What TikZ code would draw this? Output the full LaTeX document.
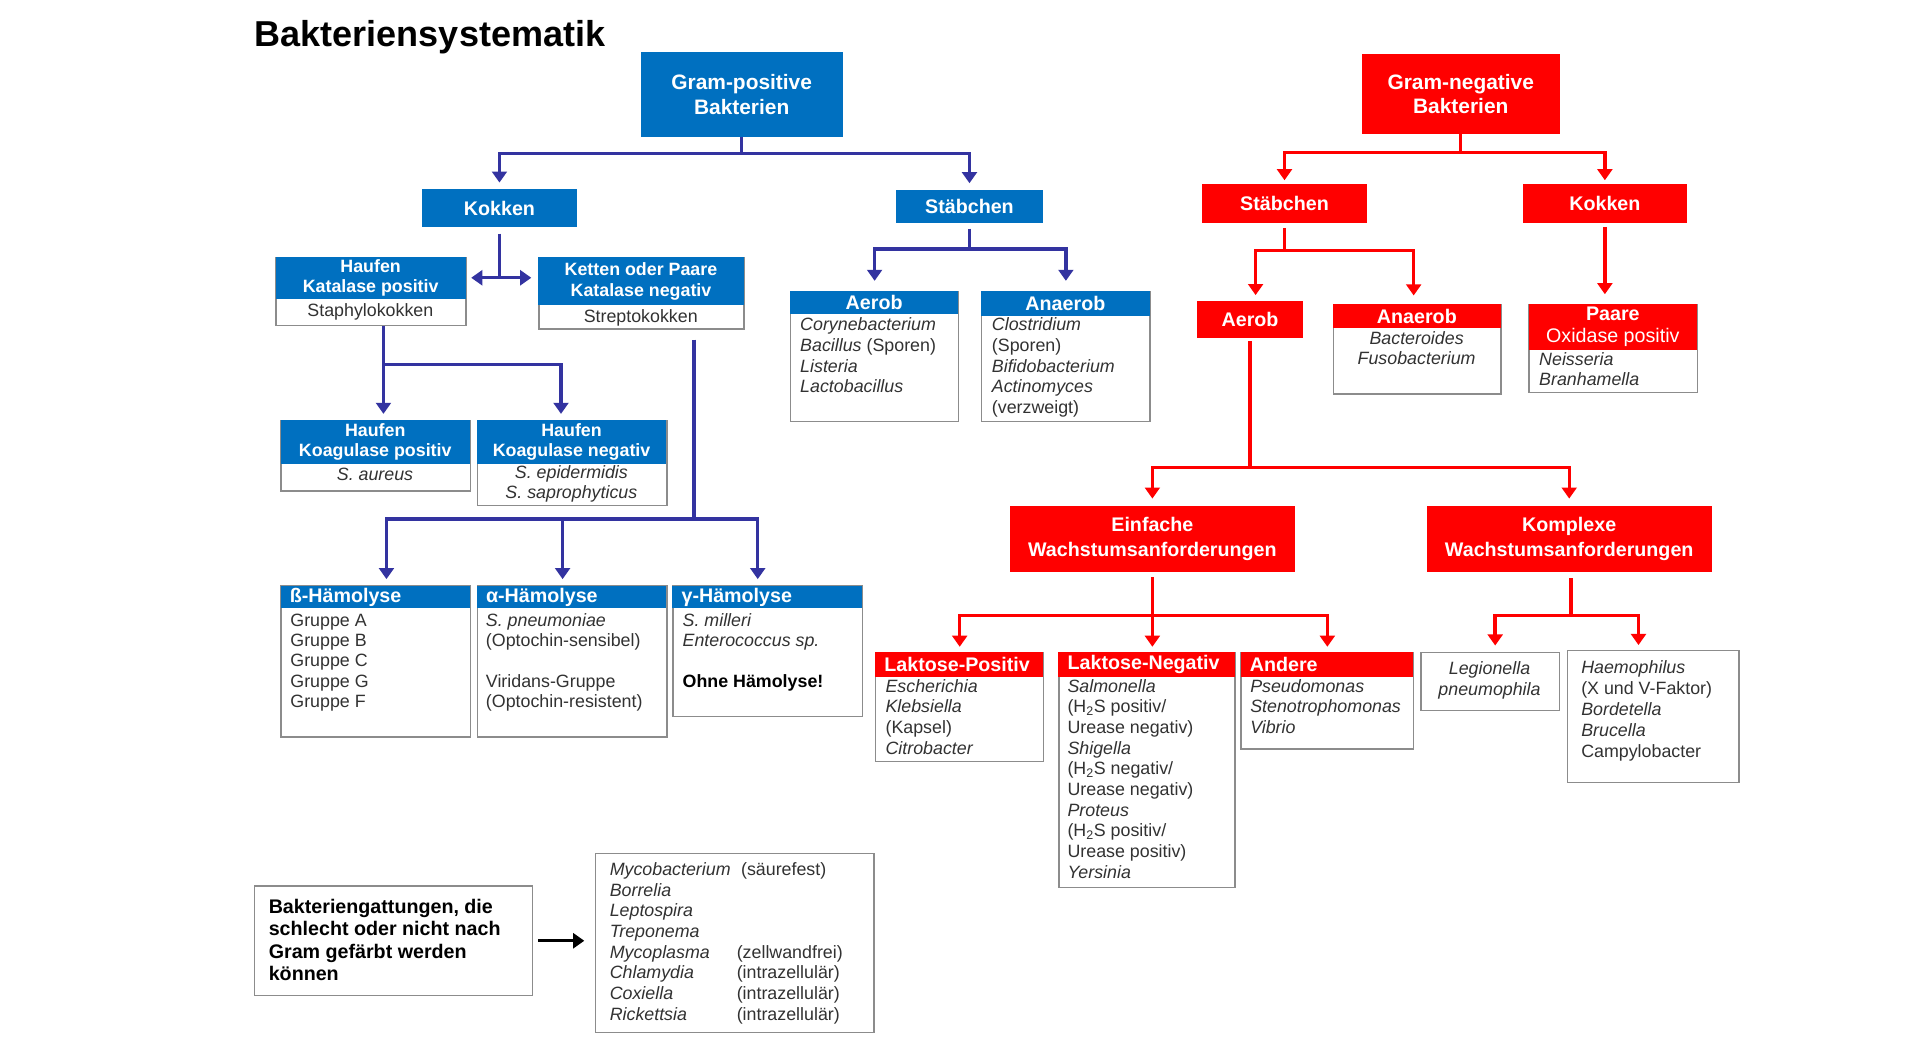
\documentclass[tikz,border=0pt]{standalone}
\usepackage{fontspec}
\setmainfont{Liberation Sans}
\usetikzlibrary{arrows.meta,calc}
\definecolor{gpblue}{RGB}{0,112,192}
\definecolor{connblue}{RGB}{51,51,160}
\definecolor{gnred}{RGB}{255,0,0}
\definecolor{framegray}{RGB}{140,140,140}
\definecolor{bodygray}{RGB}{50,50,50}
\newcommand\fntA{\bfseries\fontsize{17}{20}\selectfont}
\newcommand\fntB{\bfseries\fontsize{16}{19}\selectfont}
\newcommand\fntC{\bfseries\fontsize{14.5}{17}\selectfont}
\newcommand\fntD{\fontsize{14.5}{16.8}\selectfont}
\newcommand\fntE{\bfseries\fontsize{16}{20}\selectfont}
\newcommand\fntF{\bfseries\fontsize{16}{18.3}\selectfont}
\tikzset{
  boxframe/.style={draw=framegray, line width=1.2pt, fill=white, inner sep=0pt, anchor=north west},
  bsolid/.style={fill=gpblue, inner sep=0pt, anchor=north west, text=white, align=center},
  rsolid/.style={fill=gnred, inner sep=0pt, anchor=north west, text=white, align=center},
  bheadL/.style={bsolid, align=left, inner xsep=7.5pt, font=\fntB},
  rheadL/.style={rsolid, align=left, inner xsep=7.5pt, font=\fntB},
  body/.style={inner sep=0pt, text=bodygray, align=left, font=\fntD, execute at begin node=\strut},
  bline/.style={draw=connblue, line width=2.8pt},
  barr/.style={bline, ->, shorten >=5pt},
  rline/.style={draw=gnred, line width=2.8pt},
  rarr/.style={rline, ->, shorten >=5pt},
}
\begin{document}
\begin{tikzpicture}[x=1pt,y=-1pt,>={Triangle[length=9pt,width=12pt]}]
\fill[white] (0,0) rectangle (1568,862);
\useasboundingbox (0,0) rectangle (1568,862);

% title
\node[anchor=base west, inner sep=0pt, font=\bfseries\fontsize{29.3}{33}\selectfont] (title) at (207,38) {Bakteriensystematik};

% ---------------- Gram-positive ----------------
\node[bsolid, minimum width=164pt, minimum height=69pt, font=\fntA] (gp) at (521,42) {Gram-positive\\Bakterien};
\node[bsolid, minimum width=126pt, minimum height=31pt, font=\fntB] (kok) at (343,153.5) {Kokken};
\node[bsolid, minimum width=119.5pt, minimum height=27.5pt, font=\fntB] (stb) at (728.5,154) {Stäbchen};

% Haufen Katalase positiv
\node[boxframe, minimum width=154.5pt, minimum height=55.5pt] (hk) at (224,208.8) {};
\node[bsolid, minimum width=154.5pt, minimum height=34pt, font=\fntC] (hkh) at (224,208.8) {Haufen\\Katalase positiv};
\node[body, anchor=north] (hkb) at (301.2,245.3) {Staphylokokken};

% Ketten oder Paare
\node[boxframe, minimum width=167pt, minimum height=58.2pt] (kt) at (437.6,208.8) {};
\node[bsolid, minimum width=167pt, minimum height=39.2pt, font=\fntC] (kth) at (437.6,208.8) {Ketten oder Paare\\Katalase negativ};
\node[body, anchor=north] (ktb) at (521.1,250.3) {Streptokokken};

% Koagulase
\node[boxframe, minimum width=154pt, minimum height=57pt] (kp) at (228,341.6) {};
\node[bsolid, minimum width=154pt, minimum height=35.2pt, font=\fntC] (kph) at (228,341.6) {Haufen\\Koagulase positiv};
\node[body, anchor=north] (kpb) at (305,378.8) {\textit{S. aureus}};

\node[boxframe, minimum width=154.1pt, minimum height=69.1pt] (kn) at (387.6,341.6) {};
\node[bsolid, minimum width=154.1pt, minimum height=35.2pt, font=\fntC] (knh) at (387.6,341.6) {Haufen\\Koagulase negativ};
\node[body, anchor=north, align=center, font=\fontsize{14.5}{15.8}\selectfont] (knb) at (464.7,378.8) {\textit{S. epidermidis}\\\textit{S. saprophyticus}};

% Haemolyse
\node[boxframe, minimum width=154pt, minimum height=122.6pt] (hb) at (228,476) {};
\node[bheadL, minimum height=18.6pt, text width=139pt] (hbh) at (228,476) {ß-Hämolyse};
\node[body, anchor=north west, font=\fontsize{14.5}{16.5}\selectfont] (hbb) at (236,498.9) {Gruppe A\\Gruppe B\\Gruppe C\\Gruppe G\\Gruppe F};

\node[boxframe, minimum width=154.1pt, minimum height=122.6pt] (ha) at (387.6,476) {};
\node[bheadL, minimum height=18.6pt, text width=139.1pt] (hah) at (387.6,476) {α-Hämolyse};
\node[body, anchor=north west, font=\fontsize{14.5}{16.5}\selectfont] (hab) at (395,498.9) {\textit{S. pneumoniae}\\(Optochin-sensibel)\\ \\Viridans-Gruppe\\(Optochin-resistent)};

\node[boxframe, minimum width=154.1pt, minimum height=106pt] (hg) at (546.6,476) {};
\node[bheadL, minimum height=18.6pt, text width=139.1pt] (hgh) at (546.6,476) {γ-Hämolyse};
\node[body, anchor=north west, font=\fontsize{14.5}{16.5}\selectfont] (hgb) at (555,498.9) {\textit{S. milleri}\\\textit{Enterococcus sp.}\\ \\\textcolor{black}{\bfseries Ohne Hämolyse!}};

% Aerob / Anaerob (blue)
\node[boxframe, minimum width=136.4pt, minimum height=105.7pt] (aa) at (642.5,236.4) {};
\node[bsolid, minimum width=136.4pt, minimum height=19pt, font=\fntB] (aah) at (642.5,236.4) {Aerob};
\node[body, anchor=north west] (aab) at (650.6,258.3) {\textit{Corynebacterium}\\\textit{Bacillus} (Sporen)\\\textit{Listeria}\\\textit{Lactobacillus}};

\node[boxframe, minimum width=136.9pt, minimum height=105.7pt] (an) at (797.8,236.4) {};
\node[bsolid, minimum width=136.9pt, minimum height=20.3pt, font=\fntB] (anh) at (797.8,236.4) {Anaerob};
\node[body, anchor=north west] (anb) at (806.5,258.3) {\textit{Clostridium}\\(Sporen)\\\textit{Bifidobacterium}\\\textit{Actinomyces}\\(verzweigt)};

% blue connectors
\coordinate (f1) at ($(gp.south)+(0,13.4)$);
\draw[bline] (gp.south) -- (f1);
\draw[barr] (f1) -| (kok.north);
\draw[barr] (f1) -| (stb.north);

\coordinate (f2) at ($(kok.south)+(0,41)$);
\draw[bline] ($(kok.south)+(0,5)$) -- (f2);
\draw[bline, <->, shorten <=3.5pt, shorten >=5.5pt] (f2 -| hk.east) -- (f2 -| kt.west);

\coordinate (f3) at ($(hk.south)+(10,31)$);
\draw[barr] (f3 |- hk.south) -- (f3 |- kp.north);
\draw[barr] (f3) -| ($(kn.north)+(-9,0)$);

\coordinate (f4) at ($(kt.south)+(42.6,154)$);
\draw[bline] ($(kt.south)+(42.6,8)$) -- (f4);
\draw[barr] (f4) -| ($(hb.north)+(8.7,0)$);
\draw[barr] (f4) -| ($(ha.north)+(-7.7,0)$);
\draw[barr] (f4) -| ($(hg.north)+(-8,0)$);

\coordinate (f5) at ($(stb.south)+(0,20.5)$);
\draw[bline] ($(stb.south)+(0,4)$) -- (f5);
\draw[barr, shorten >=8pt] (f5) -| (aa.north);
\draw[barr, shorten >=8pt] (f5) -| (an.north);

% ---------------- Gram-negative ----------------
\node[rsolid, minimum width=161.2pt, minimum height=64.5pt, font=\fntA] (gn) at (1107.2,43.9) {Gram-negative\\Bakterien};
\node[rsolid, minimum width=133.7pt, minimum height=31.5pt, font=\fntB] (rstb) at (977.6,149.6) {Stäbchen};
\node[rsolid, minimum width=133pt, minimum height=31.5pt, font=\fntB] (rkok) at (1238.5,149.6) {Kokken};
\node[rsolid, minimum width=85.7pt, minimum height=29.8pt, font=\fntB] (raer) at (973.6,244.5) {Aerob};

\node[boxframe, minimum width=136.2pt, minimum height=72.6pt] (ranaer) at (1084,247.3) {};
\node[rsolid, minimum width=136.2pt, minimum height=19pt, font=\fntB] (ranaerh) at (1084,247.3) {Anaerob};
\node[body, anchor=north, align=center] (ranaerb) at (1152.1,269.3) {\textit{Bacteroides}\\\textit{Fusobacterium}};

\node[boxframe, minimum width=137.1pt, minimum height=71.3pt] (paare) at (1242.9,247.3) {};
\node[rsolid, minimum width=137.1pt, minimum height=36.8pt, font=\fontsize{16}{18}\selectfont] (paareh) at (1242.9,247.3) {\textbf{Paare}\\Oxidase positiv};
\node[body, anchor=north west, font=\fontsize{14.5}{16.3}\selectfont] (paareb) at (1251.6,286.6) {\textit{Neisseria}\\\textit{Branhamella}};

\node[rsolid, minimum width=232.4pt, minimum height=53.5pt, font=\fntE] (ein) at (820.8,411.5) {Einfache\\Wachstumsanforderungen};
\node[rsolid, minimum width=232pt, minimum height=53.5pt, font=\fntE] (kom) at (1160,411.5) {Komplexe\\Wachstumsanforderungen};

\node[boxframe, minimum width=136.6pt, minimum height=88.6pt] (lp) at (711.6,530) {};
\node[rheadL, minimum height=20.3pt, text width=121.6pt] (lph) at (711.6,530) {Laktose-Positiv};
\node[body, anchor=north west] (lpb) at (720,552.3) {\textit{Escherichia}\\\textit{Klebsiella}\\(Kapsel)\\\textit{Citrobacter}};

\node[boxframe, minimum width=143.2pt, minimum height=191pt] (ln) at (860.6,530) {};
\node[rheadL, minimum height=20.3pt, text width=128.2pt] (lnh) at (860.6,530) {Laktose-Negativ};
\node[body, anchor=north west] (lnb) at (868,552.3) {\textit{Salmonella}\\(H\textsubscript{2}S positiv/\\Urease negativ)\\\textit{Shigella}\\(H\textsubscript{2}S negativ/\\Urease negativ)\\\textit{Proteus}\\(H\textsubscript{2}S positiv/\\Urease positiv)\\\textit{Yersinia}};

\node[boxframe, minimum width=140.2pt, minimum height=78.6pt] (andr) at (1008.8,530) {};
\node[rheadL, minimum height=20.3pt, text width=125.2pt] (andrh) at (1008.8,530) {Andere};
\node[body, anchor=north west] (andrb) at (1016.6,552.3) {\textit{Pseudomonas}\\\textit{Stenotrophomonas}\\\textit{Vibrio}};

\node[boxframe, minimum width=113pt, minimum height=47.4pt] (leg) at (1154.9,530) {};
\node[body, anchor=north, align=center, font=\fontsize{14.5}{17}\selectfont] (legb) at (1211.4,538.2) {\textit{Legionella}\\\textit{pneumophila}};

\node[boxframe, minimum width=139.5pt, minimum height=107.1pt] (hae) at (1274.2,528.6) {};
\node[body, anchor=north west, font=\fontsize{14.5}{17}\selectfont] (haeb) at (1285.8,537.3) {\textit{Haemophilus}\\(X und V-Faktor)\\\textit{Bordetella}\\\textit{Brucella}\\Campylobacter};

% red connectors
\coordinate (f6) at ($(gn.south)+(0,15)$);
\draw[rline] (gn.south) -- (f6);
\draw[rarr, shorten >=3pt] (f6) -| (rstb.north);
\draw[rarr, shorten >=3pt] (f6) -| (rkok.north);

\coordinate (f7) at ($(rstb.south)+(0,22)$);
\draw[rline] ($(rstb.south)+(0,4)$) -- (f7);
\draw[rarr, shorten >=4.5pt] (f7) -| ($(raer.north)+(4.5,0)$);
\draw[rarr, shorten >=7pt] (f7) -| ($(ranaer.north)+(-3,0)$);

\draw[rarr, shorten >=8pt] ($(rkok.south)+(0,3)$) -- (rkok.south |- paare.north);

\coordinate (f8) at ($(raer.south)+(0,105.7)$);
\draw[rline] ($(raer.south)+(0,3)$) -- (f8);
\draw[rarr, shorten >=6pt] (f8) -| (ein.north);
\draw[rarr, shorten >=6pt] (f8) -| (kom.north);

\coordinate (f9) at ($(ein.south)+(0,35.2)$);
\draw[rarr, shorten >=4pt] ($(ein.south)+(0,4)$) -- (ein.south |- ln.north);
\draw[rarr, shorten >=4pt] (f9) -| (lp.north);
\draw[rarr, shorten >=4pt] (f9) -| (andr.north);

\coordinate (f10) at ($(kom.south)+(1.6,35.2)$);
\draw[rline] ($(kom.south)+(1.6,5)$) -- (f10);
\draw[rarr, shorten >=5pt] (f10) -| ($(leg.north)+(4,0)$);
\draw[rarr, shorten >=4pt] (f10) -| ($(hae.north)+(-12,0)$);

% ---------------- bottom ----------------
\node[boxframe, minimum width=225.9pt, minimum height=89.4pt] (bl) at (206.5,719.8) {};
\node[inner sep=0pt, anchor=north west, align=left, font=\fntF, execute at begin node=\strut] (blt) at (218.4,731) {Bakteriengattungen, die\\schlecht oder nicht nach\\Gram gefärbt werden\\können};

\node[boxframe, minimum width=226.6pt, minimum height=145.5pt] (br) at (483.7,693.5) {};
\node[body, anchor=north west] (brn) at (495.7,701.3) {\textit{Mycobacterium}\\\textit{Borrelia}\\\textit{Leptospira}\\\textit{Treponema}\\\textit{Mycoplasma}\\\textit{Chlamydia}\\\textit{Coxiella}\\\textit{Rickettsia}};
\node[body, anchor=north west] (bra) at (599,701.3) {\hspace*{3.5pt}(säurefest)\\ \\ \\ \\(zellwandfrei)\\(intrazellulär)\\(intrazellulär)\\(intrazellulär)};

\draw[line width=2.8pt, ->, shorten <=4pt, shorten >=8.5pt] (bl.east) -- (bl.east -| br.west);
\end{tikzpicture}
\end{document}
